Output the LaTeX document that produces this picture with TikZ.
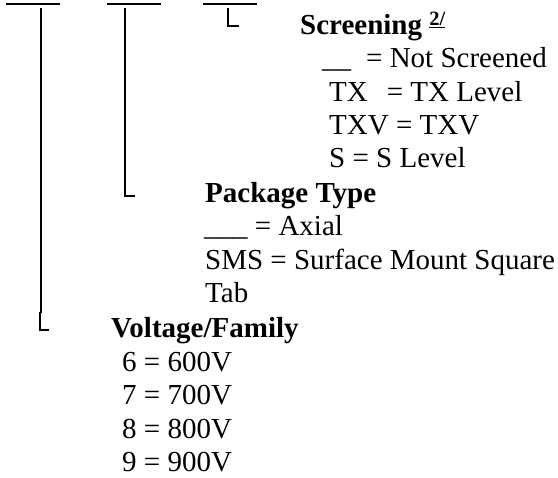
\documentclass[tikz,border=0pt]{standalone}
\usepackage{fontspec}
\setmainfont{Liberation Serif}
\begin{document}
\begin{tikzpicture}[x=1pt,y=-1pt,
  txt/.style={anchor=base west,inner sep=0pt,font=\fontsize{29}{33}\selectfont},
  head/.style={txt,font=\fontsize{29}{33}\selectfont\bfseries},
  bar/.style={line width=1.3pt},
  lead/.style={line width=2pt}]
\useasboundingbox (0,0) rectangle (558,478);
% top bars
\coordinate (b1l) at (6,4); \coordinate (b1r) at (60,4);
\coordinate (b2l) at (107,4); \coordinate (b2r) at (161,4);
\coordinate (b3l) at (203,4); \coordinate (b3r) at (257,4);
\draw[bar] (b1l) -- (b1r);
\draw[bar] (b2l) -- (b2r);
\draw[bar] (b3l) -- (b3r);
% leaders
\coordinate (l1t) at (41,8); \coordinate (l1b) at (41,313);
\coordinate (l1k) at (39.5,312); \coordinate (l1c) at (39.5,330); \coordinate (l1e) at (49,330);
\draw[lead] (l1t) -- (l1b);
\draw[lead] (l1k) -- (l1c) -- (l1e);
\coordinate (l2t) at (125,8); \coordinate (l2c) at (125,196); \coordinate (l2e) at (135,196);
\draw[lead] (l2t) -- (l2c) -- (l2e);
\coordinate (l3t) at (228,8); \coordinate (l3c) at (228,26); \coordinate (l3e) at (239,26);
\draw[lead] (l3t) -- (l3c) -- (l3e);
% Screening
\node[head] (scr) at (300,35) {Screening \textsuperscript{\underline{2/}}};
\node[txt] (s1) at (322,68) {\_\_\hspace{15pt}= Not Screened};
\node[txt] (s2) at (329,102) {TX\hspace{19pt}= TX Level};
\node[txt] (s3) at (329,135) {TXV = TXV};
\node[txt] (s4) at (329,168) {S = S Level};
% Package
\node[head] (pkg) at (205,203) {Package Type};
\node[txt] (p1) at (204,236) {\_\_\_ = Axial};
\node[txt] (p2) at (205,270) {SMS = Surface Mount Square};
\node[txt] (p3) at (205,303) {Tab};
% Voltage
\node[head] (vol) at (111,338) {Voltage/Family};
\node[txt] (v1) at (122,372) {6 = 600V};
\node[txt] (v2) at (122,405) {7 = 700V};
\node[txt] (v3) at (122,439) {8 = 800V};
\node[txt] (v4) at (122,472) {9 = 900V};
\end{tikzpicture}
\end{document}
